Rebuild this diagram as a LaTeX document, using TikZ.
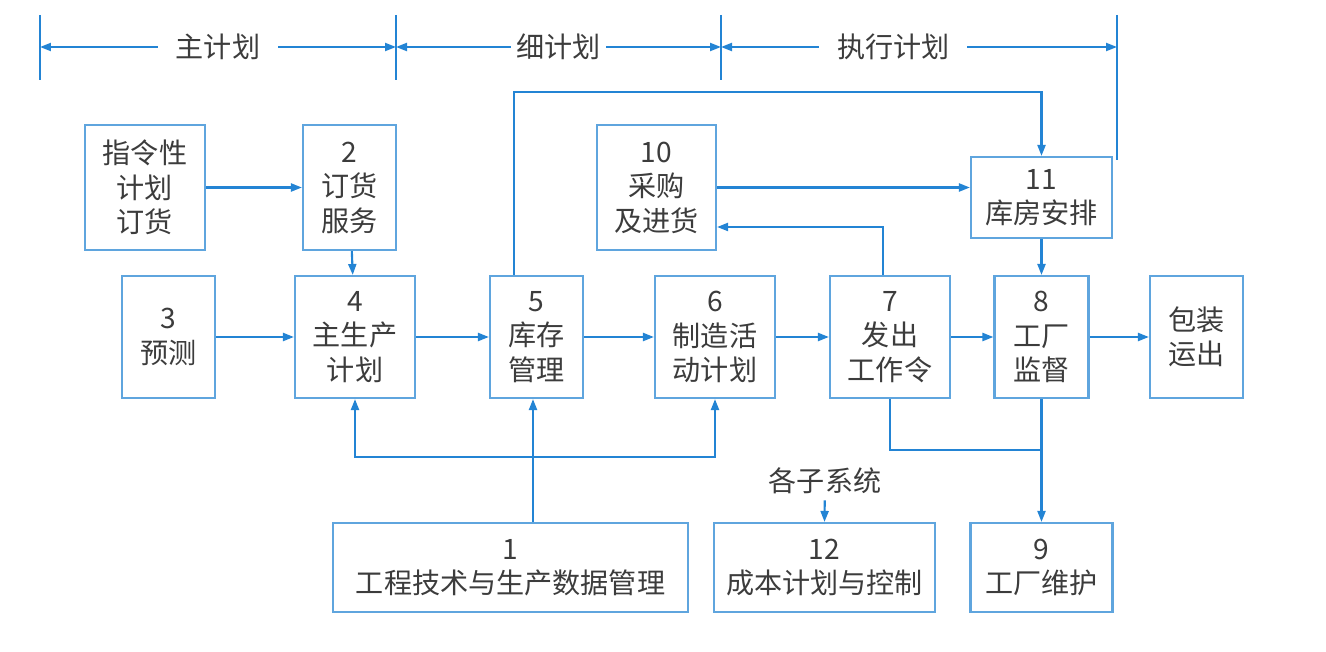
\documentclass[tikz,border=0pt]{standalone}
\usepackage{fontspec}
\setmainfont{Liberation Serif}
\newfontfamily\cjk{Noto Sans CJK SC}
\usepackage{tikz}
\usetikzlibrary{positioning, calc, arrows.meta}
\definecolor{lineblue}{RGB}{35, 132, 212}
\definecolor{boxblue}{RGB}{95, 165, 222}
\definecolor{textgray}{RGB}{60, 60, 60}
\tikzset{
    blk/.style={
        draw=boxblue, line width=1.2pt, fill=white, align=center,
        text=textgray, font=\cjk\fontsize{16}{19.6}\selectfont, inner sep=0pt
    },
    flow/.style={
        -{Triangle[length=2.2mm, width=1.6mm]}, lineblue, line width=1.2pt
    },
    wire/.style={
        lineblue, line width=1.2pt
    },
    span/.style={
        {Triangle[length=2.2mm, width=1.6mm]}-{Triangle[length=2.2mm, width=1.6mm]},
        lineblue, line width=1.2pt
    },
    lbl/.style={
        text=textgray, font=\cjk\fontsize{16}{19.6}\selectfont
    }
}

\begin{document}
\begin{tikzpicture}[x=0.02cm, y=-0.02cm]
        \useasboundingbox (0,0) rectangle (1326,652);

        % ======================================
        % THANH KE HOACH (TREN CUNG)
        % ======================================
        \coordinate (t1) at (40,47);
        \coordinate (t2) at (396,47);
        \coordinate (t3) at (721,47);
        \coordinate (t4) at (1117,47);
        \foreach \x in {40,396,721}
            \draw[wire] (\x,15) -- (\x,80);
        \draw[wire] (1117,15) -- (1117,160);

        \draw[span] (t1) -- node[lbl, fill=white, inner xsep=10pt] {主计划} (t2);
        \draw[span] (t2) -- node[lbl, fill=white, inner xsep=3pt] {细计划} (t3);
        \draw[span] (t3) -- node[lbl, fill=white, inner xsep=10pt, pos=0.435] {执行计划} (t4);

        % ======================================
        % CAC KHOI
        % ======================================
        \node[blk, minimum width=2.4cm, minimum height=2.5cm] (cmd) at (145,187.5) {指令性\\计划\\订货};
        \node[blk, minimum width=1.86cm, minimum height=2.5cm] (ord) at (349.5,187.5) {2\\订货\\服务};
        \node[blk, minimum width=2.38cm, minimum height=2.5cm] (pur) at (656.5,187.5) {10\\采购\\及进货};
        \node[blk, minimum width=2.82cm, minimum height=1.62cm] (wh) at (1041.5,197.5) {11\\库房安排};

        \node[blk, minimum width=1.86cm, minimum height=2.44cm] (fc) at (168.5,337) {3\\预测};
        \node[blk, minimum width=2.4cm, minimum height=2.44cm] (mps) at (355,337) {4\\主生产\\计划};
        \node[blk, minimum width=1.86cm, minimum height=2.44cm] (inv) at (536.5,337) {5\\库存\\管理};
        \node[blk, minimum width=2.4cm, minimum height=2.44cm] (mfg) at (715,337) {6\\制造活\\动计划};
        \node[blk, minimum width=2.4cm, minimum height=2.44cm] (wo) at (890,337) {7\\发出\\工作令};
        \node[blk, minimum width=1.88cm, minimum height=2.44cm] (sup) at (1041.5,337) {8\\工厂\\监督};
        \node[blk, minimum width=1.86cm, minimum height=2.44cm] (ship) at (1196.5,337) {包装\\运出};

        \node[blk, minimum width=7.1cm, minimum height=1.78cm] (eng) at (510.5,567.5) {1\\工程技术与生产数据管理};
        \node[blk, minimum width=4.42cm, minimum height=1.78cm] (cost) at (824.5,567.5) {12\\成本计划与控制};
        \node[blk, minimum width=2.84cm, minimum height=1.78cm] (mnt) at (1041.5,567.5) {9\\工厂维护};

        \node[lbl] (subs) at (825,481) {各子系统};

        % ======================================
        % MUI TEN
        % ======================================
        \draw[flow] (cmd) -- (ord);
        \draw[flow] (ord) -- (mps);
        \draw[flow] (fc) -- (mps);
        \draw[flow] (mps) -- (inv);
        \draw[flow] (inv) -- (mfg);
        \draw[flow] (mfg) -- (wo);
        \draw[flow] (wo) -- (sup);
        \draw[flow] (sup) -- (ship);
        \draw[flow] (pur.east) -- (pur.east -| wh.west);
        \draw[flow] (wh) -- (sup);

        % duong vong phia tren: 5 -> 11
        \coordinate (topbus) at (1041.5,92);
        \draw[flow] ([xshift=-0.45cm]inv.north) |- (wh.north |- topbus) -- (wh.north);

        % 7 -> 10
        \draw[flow] ([xshift=-0.14cm]wo.north) |- ([yshift=-0.79cm]pur.east);

        % 1 -> 4, 5, 6
        \coordinate (bus) at (533,457);
        \draw[span] (mps.south) |- (bus) -| (mfg.south);
        \draw[flow] ([xshift=-0.07cm]inv.south |- eng.north) -- ([xshift=-0.07cm]inv.south);

        % 7, 8 -> 9
        \coordinate (join) at (1041.5,450);
        \draw[wire] (wo.south) |- (join);
        \draw[flow] (sup.south) -- (mnt.north);

        % cac he con -> 12
        \draw[flow] (subs) -- (cost.north);

    \end{tikzpicture}
\end{document}
